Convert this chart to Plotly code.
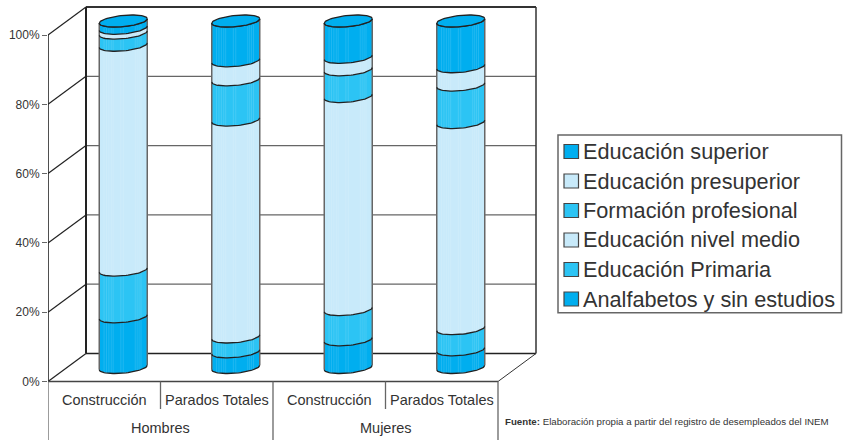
import numpy as np
import plotly.graph_objects as go

# ---- data (percent of each column) ----
groups = ["Hombres", "Mujeres"]
categories = ["Construcción", "Parados Totales", "Construcción", "Parados Totales"]
series_names = ["Analfabetos y sin estudios", "Educación Primaria", "Educación nivel medio",
                "Formación profesional", "Educación presuperior", "Educación superior"]
analfabetos = [14.6, 4.5, 8.0, 5.1]
primaria = [13.5, 4.3, 8.7, 6.1]
nivel_medio = [64.9, 62.6, 61.5, 59.5]
formacion = [3.5, 11.6, 7.7, 10.8]
presuperior = [1.4, 5.5, 3.6, 5.3]
superior = [2.1, 11.5, 10.5, 13.2]
series_values = [analfabetos, primaria, nivel_medio, formacion, presuperior, superior]
series_colors = ["#00AEEF", "#2CC4F4", "#C8EAFA", "#2CC4F4", "#C8EAFA", "#00AEEF"]
y_ticks = [0, 20, 40, 60, 80, 100]
y_labels = ["0%", "20%", "40%", "60%", "80%", "100%"]

# ---- geometry ----
W, H = 847, 440
PX_X, PX_Y = 112.5, 3.465          # pixels per x unit / per percent
LEFT, ZERO = 48, 381.5             # pixel of x=0 and y=0
RIGHT = 538
DX, DY = 38 / PX_X, 28 / PX_Y      # depth vector of the box
RX, RY, TILT = 24 / PX_X, 5.6 / PX_Y, 2.2 / PX_Y
DARK, GREY = "#222222", "#666666"
TEXT = "#333333"
STRIPES = [-0.8, -0.7, -0.6, -0.5, -0.42, -0.1, 0.0, 0.5, 0.58, 0.66, 0.74]


def front_arc(cx, level):
    t = np.linspace(np.pi, 2 * np.pi, 40)
    return (cx + DX / 2 + RX * np.cos(t),
            level + DY / 2 + RY * np.sin(t) + TILT * np.cos(t))


def lid(cx, level):
    t = np.linspace(0, 2 * np.pi, 80)
    return (cx + DX / 2 + RX * np.cos(t),
            level + DY / 2 + RY * np.sin(t) + TILT * np.cos(t))


fig = go.Figure()

# cylinders, drawn bottom-up
for i in range(4):
    cx = i + 0.5
    level = 0.0
    for name, vals, col in zip(series_names, series_values, series_colors):
        top = level + vals[i]
        bx, by = front_arc(cx, level)
        tx, ty = front_arc(cx, top)
        fig.add_trace(go.Scatter(x=np.r_[bx, tx[::-1], bx[0]], y=np.r_[by, ty[::-1], by[0]],
                                 mode="lines", fill="toself", fillcolor=col, name=name,
                                 line=dict(width=0), showlegend=False, hoverinfo="skip"))
        level = top
    total = level
    stripes_x, stripes_y = [], []
    for f in STRIPES:
        t = np.arccos(f)
        xs = cx + DX / 2 + RX * f
        stripes_x += [xs, xs, None]
        stripes_y += [DY / 2 - RY * np.sin(t) + TILT * f, total + DY / 2 - RY * np.sin(t) + TILT * f - 0.4, None]
    fig.add_trace(go.Scatter(x=stripes_x, y=stripes_y, mode="lines",
                             line=dict(color="rgba(255,255,255,0.13)", width=1),
                             showlegend=False, hoverinfo="skip"))
    # cylinder sides
    b0x, b0y = front_arc(cx, 0.0)
    t0x, t0y = front_arc(cx, total)
    fig.add_trace(go.Scatter(x=[b0x[0], t0x[0], None, b0x[-1], t0x[-1]],
                             y=[b0y[0], t0y[0], None, b0y[-1], t0y[-1]], mode="lines",
                             line=dict(color=GREY, width=1.5), showlegend=False, hoverinfo="skip"))
    # boundary arcs
    level = 0.0
    arcs_x, arcs_y = list(b0x) + [None], list(b0y) + [None]
    for vals in series_values:
        level += vals[i]
        ax, ay = front_arc(cx, level)
        arcs_x += list(ax) + [None]
        arcs_y += list(ay) + [None]
    fig.add_trace(go.Scatter(x=arcs_x, y=arcs_y, mode="lines", line=dict(color=DARK, width=1.3),
                             showlegend=False, hoverinfo="skip"))
    lx, ly = lid(cx, level)
    fig.add_trace(go.Scatter(x=lx, y=ly, mode="lines", fill="toself", fillcolor=series_colors[-1],
                             line=dict(color=DARK, width=1.3), showlegend=False, hoverinfo="skip"))


def seg(x0, y0, x1, y1, color=DARK, width=1.5):
    return dict(type="line", x0=x0, y0=y0, x1=x1, y1=y1, layer="below",
                line=dict(color=color, width=width))


def pxx(px):
    return (px - LEFT) / (RIGHT - LEFT)


def pxy(py):
    return 1 - py / H


shapes = []
# back wall
for v in y_ticks[1:-1]:
    shapes.append(seg(DX, v + DY, 4 + DX, v + DY, GREY, 1.3))
shapes.append(seg(DX, 100 + DY, 4 + DX, 100 + DY, "#333333", 2))
shapes.append(seg(DX, DY, 4 + DX, DY, DARK, 1.5))
shapes.append(seg(DX, DY, DX, 100 + DY, DARK, 2))
shapes.append(seg(4 + DX, DY, 4 + DX, 100 + DY, "#333333", 1.5))
# left wall
for v in y_ticks:
    shapes.append(seg(0, v, DX, v + DY, DARK, 1.2))
shapes.append(seg(0, 0, 0, 100, DARK, 1.6))
# floor
shapes.append(seg(0, 0, 4, 0, "#444444", 1.5))
shapes.append(seg(4, 0, 4 + DX, DY, "#333333", 1))
# category bracket lines
y_short = -(409 - ZERO) / PX_Y
y_long = -(440 - ZERO) / PX_Y
for x, yb in [(0, y_long), (1, y_short), (2, y_long), (3, y_short), (4, y_long)]:
    shapes.append(seg(x, 0, x, yb, GREY, 1.3))

annotations = []
for i, c in enumerate(categories):
    annotations.append(dict(x=i + 0.5, y=-(400 - ZERO) / PX_Y, xref="x", yref="y", text=c,
                            showarrow=False, font=dict(size=14.5, color=TEXT)))
for i, g in enumerate(groups):
    annotations.append(dict(x=2 * i + 1, y=-(428 - ZERO) / PX_Y, xref="x", yref="y", text=g,
                            showarrow=False, font=dict(size=14.5, color=TEXT)))
annotations.append(dict(x=pxx(503), y=pxy(421), xref="paper", yref="paper", xanchor="left", yanchor="middle",
                        text="<b>Fuente:</b> Elaboración propia a partir del registro de desempleados del INEM",
                        showarrow=False, font=dict(size=9.7, color=TEXT)))

# legend box: top entry is the last series
shapes.append(dict(type="rect", xref="paper", yref="paper", x0=pxx(558), x1=pxx(841.5), y0=pxy(135), y1=pxy(312.7),
                   line=dict(color=GREY, width=1.5), fillcolor="white", layer="below"))
rows = [151.5, 181, 210.5, 240, 269.5, 299]
for row, name, col in zip(rows, series_names[::-1], series_colors[::-1]):
    shapes.append(dict(type="rect", xref="paper", yref="paper", x0=pxx(564), x1=pxx(578.5),
                       y0=pxy(row - 7), y1=pxy(row + 7), fillcolor=col, line=dict(color="#444444", width=1.2)))
    annotations.append(dict(x=pxx(580.5), y=pxy(row), xref="paper", yref="paper", xanchor="left", yanchor="middle",
                            text=name, showarrow=False, font=dict(size=21.7, color=TEXT)))

fig.update_layout(
    width=W, height=H, margin=dict(l=LEFT, r=W - RIGHT, t=0, b=0, autoexpand=False),
    paper_bgcolor="white", plot_bgcolor="rgba(0,0,0,0)",
    font=dict(family="Liberation Sans, Arial, sans-serif", color=TEXT),
    xaxis=dict(range=[0, (RIGHT - LEFT) / PX_X], visible=False, fixedrange=True),
    yaxis=dict(range=[-(H - ZERO) / PX_Y, ZERO / PX_Y], tickvals=y_ticks, ticktext=y_labels,
               showgrid=False, zeroline=False, showline=False, ticks="outside", ticklen=5,
               tickcolor=GREY, tickwidth=1.2, tickfont=dict(size=12, color=TEXT), fixedrange=True),
    showlegend=False,
    shapes=shapes, annotations=annotations,
)
fig.write_html("out.html", config=dict(displayModeBar=False),
               post_script="document.body.style.margin='0';document.body.style.overflow='hidden';")
